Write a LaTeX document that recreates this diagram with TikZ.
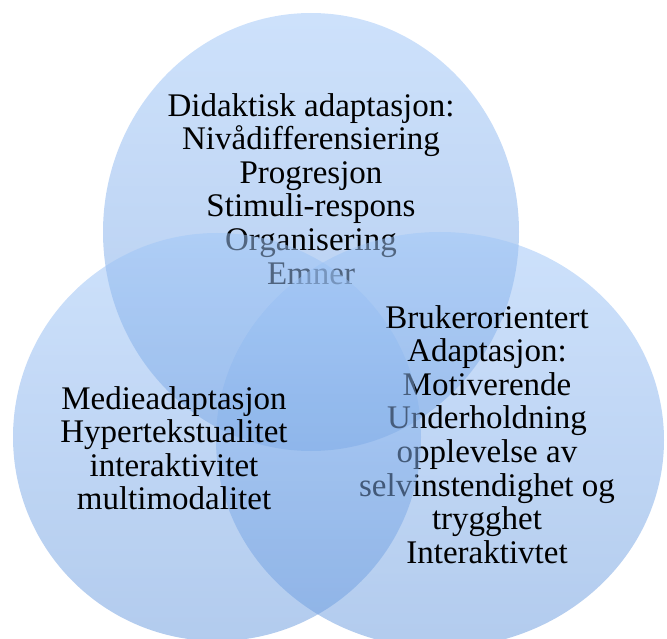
\documentclass[tikz,border=0pt]{standalone}
\usepackage{xcolor}
\usepackage{fontspec}
\setmainfont{Liberation Serif}
\usepackage{tikz}
\definecolor{venntop}{RGB}{160,198,248}
\definecolor{vennbottom}{RGB}{108,156,222}
\tikzset{
	venn/.style={top color=venntop, bottom color=vennbottom, fill opacity=0.52},
	venntext/.style={align=center, inner sep=0pt, anchor=north, text=black, font=\fontsize{33}{33.6}\selectfont}
}

\begin{document}
\begin{tikzpicture}[x=1pt,y=-1pt]
	\useasboundingbox (0,0) rectangle (667,639);
	\clip (0,0) rectangle (667,639);
	
	% Top circle - didaktisk
	\shade[venn] (311,232) ellipse [x radius=208, y radius=219];
	\node[venntext] (didaktisk) at (311,93) {Didaktisk adaptasjon:\\Nivådifferensiering\\Progresjon\\Stimuli-respons\\Organisering\\Emner};
	
	% Right circle - brukerorientert
	\shade[venn] (440,440) ellipse [x radius=224, y radius=208];
	\node[venntext] (bruker) at (487,305) {Brukerorientert\\Adaptasjon:\\Motiverende\\Underholdning\\opplevelse av\\selvinstendighet og\\trygghet\\Interaktivtet};
	
	% Left circle - medier
	\shade[venn] (217,437) circle [radius=204];
	\node[venntext] (medie) at (174,386) {Medieadaptasjon\\Hypertekstualitet\\interaktivitet\\multimodalitet};
	
\end{tikzpicture}
\end{document}
